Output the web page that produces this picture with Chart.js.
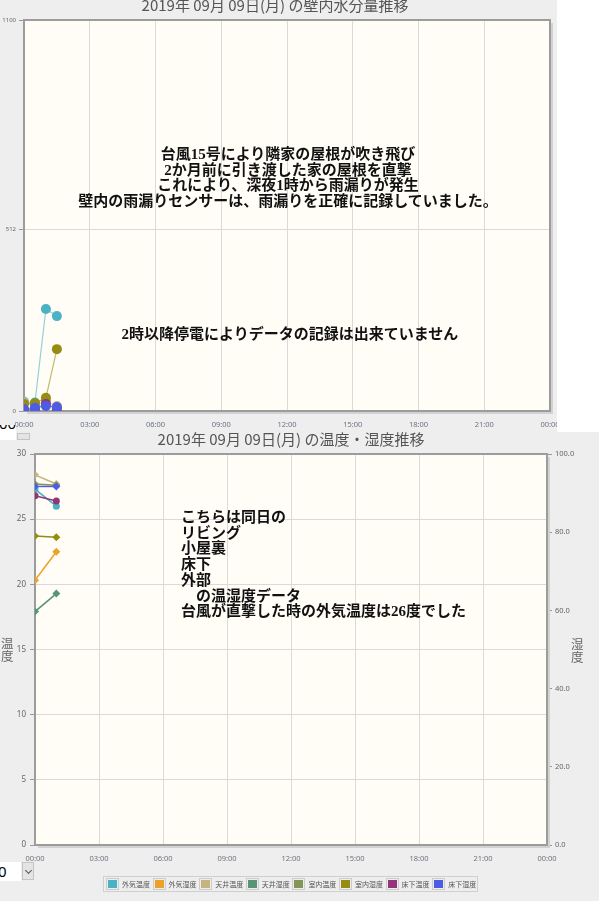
<!DOCTYPE html>
<html lang="ja">
<head>
<meta charset="utf-8">
<title>壁内水分量・温湿度推移</title>
<script src="https://cdn.jsdelivr.net/npm/chart.js@4.4.1/dist/chart.umd.min.js"></script>
<style>
  body { margin: 0; width: 604px; height: 901px; position: relative; overflow: hidden; background: #fff; font-family: "Noto Sans CJK JP", sans-serif; }
  .panel { position: absolute; left: 0; background: #eeeeee; overflow: hidden; }
  #panel-wall { top: 0; width: 557px; height: 433px; }
  #panel-temp { top: 432px; width: 599px; height: 469px; }
  #wallChart { position: absolute; left: 0; top: -14px; }
  #tempChart { position: absolute; left: 0; top: 0; }
  .note { position: absolute; font: bold 15px/15.7px "Liberation Serif", "Noto Sans CJK JP", serif; color: #111; white-space: pre; }
  .axis-title { position: absolute; font: 12.5px/13px "Noto Sans CJK JP", sans-serif; color: #666; }
  .sel { position: absolute; background: #fff; overflow: hidden; color: #000; font: 15px "Noto Sans", sans-serif; }
  .sel-btn { position: absolute; background: #e4e4e4; border: 1px solid #c4c4c4; box-sizing: border-box; }
  .chev { position: absolute; left: 3px; top: 5px; width: 4px; height: 4px; border-right: 1px solid #555; border-bottom: 1px solid #555; transform: rotate(45deg); }
  #legend { position: absolute; left: 103px; top: 876px; width: 375px; height: 16px; box-sizing: border-box; border: 1px solid #cfcfcf; padding-left: 2px; display: flex; align-items: center; }
  .item { width: 46.6px; display: flex; align-items: center; flex: none; }
  .sw { border: 1px solid #cccccc; padding: 1px; margin-right: 3px; }
  .sw div { width: 9px; height: 8px; }
  .item span { font-size: 7px; color: #555; white-space: nowrap; }
</style>
</head>
<body>
<div class="panel" id="panel-wall"><canvas id="wallChart" width="557" height="447"></canvas></div>
<div class="panel" id="panel-temp"><canvas id="tempChart" width="599" height="469"></canvas></div>

<div class="sel" style="left:0;top:425px;width:16px;height:15px;"><div style="position:absolute;left:-1px;top:-12px;">00</div></div>
<div class="sel-btn" style="left:17px;top:433px;width:13px;height:7px;"></div>
<div class="sel" style="left:0;top:862px;width:21px;height:19px;"><div style="position:absolute;left:-2px;top:-1px;">0</div></div>
<div class="sel-btn" style="left:22px;top:862px;width:12px;height:18px;"><div class="chev"></div></div>

<div class="note" style="left:0;top:147px;width:576px;text-align:center;">台風15号により隣家の屋根が吹き飛び
2か月前に引き渡した家の屋根を直撃
これにより、深夜1時から雨漏りが発生
壁内の雨漏りセンサーは、雨漏りを正確に記録していました。</div>
<div class="note" style="left:0;top:327px;width:580px;text-align:center;">2時以降停電によりデータの記録は出来ていません</div>
<div class="note" style="left:181px;top:510px;">こちらは同日の
リビング
小屋裏
床下
外部
　の温湿度データ
台風が直撃した時の外気温度は26度でした</div>

<div class="axis-title" style="left:1px;top:636px;">温<br>度</div>
<div class="axis-title" style="left:571px;top:637px;">湿<br>度</div>
<div id="legend"></div>

<script>
// 壁内水分量 (30分ごと、2時以降は停電で欠測)
const wallTimes = [0, 0.5, 1, 1.5];
const wallCyan = [26, 24, 287, 267];
const wallTan = [24, 16, 28, 14];
const wallOlive = [20, 22, 37, 174];
const wallPurple = [4, 6, 20, 6];
const wallBlue = [5, 9, 14, 11];
const wallTicks = [0, 512, 1100];

// 温度・湿度 (1時間ごと)
const times = [0, 1];
const names = ["外気温度", "外気湿度", "天井温度", "天井湿度", "室内温度", "室内湿度", "床下温度", "床下湿度"];
const outTemp = [27.3, 26.0];
const outHum = [67.7, 75.0];
const atticTemp = [28.4, 27.7];
const atticHum = [59.7, 64.3];
const roomTemp = [27.7, 27.6];
const roomHum = [79.0, 78.7];
const floorTemp = [26.8, 26.4];
const floorHum = [91.7, 91.7];

const colors = ["#4bb2c5", "#EAA228", "#c5b47f", "#579575", "#839557", "#958c12", "#953579", "#4b5de4"];

const fmtHour = (v) => String(v % 24).padStart(2, "0") + ":00";

// プロット領域の背景と枠
const plotFrame = {
  id: "plotFrame",
  beforeDraw(chart) {
    const { ctx, chartArea: a } = chart;
    ctx.save();
    ctx.fillStyle = "#fffdf6";
    ctx.fillRect(a.left, a.top, a.right - a.left, a.bottom - a.top);
    ctx.restore();
  },
  beforeDatasetsDraw(chart) {
    const { ctx, chartArea: a } = chart;
    ctx.save();
    ctx.strokeStyle = "#d2d2d2";
    ctx.lineWidth = 2;
    ctx.beginPath();
    ctx.moveTo(a.right + 2, a.top + 3);
    ctx.lineTo(a.right + 2, a.bottom + 2);
    ctx.lineTo(a.left + 3, a.bottom + 2);
    ctx.stroke();
    ctx.strokeStyle = "#9c9c9c";
    ctx.strokeRect(a.left, a.top, a.right - a.left, a.bottom - a.top);
    ctx.restore();
  },
};

const xAxis = (height) => ({
  type: "linear",
  min: 0,
  max: 24,
  border: { display: false },
  grid: { color: "#dadada", lineWidth: 1, drawTicks: false },
  ticks: {
    stepSize: 3,
    autoSkip: false,
    maxRotation: 0,
    padding: 9,
    color: "#6b7282",
    font: { family: "Noto Sans", size: 7.5 },
    callback: fmtHour,
  },
  afterFit(s) {
    s.height = height;
    s.paddingLeft = 0;
    s.paddingRight = 0;
  },
});

// 壁内水分量グラフ
const wallSeries = [
  { values: wallCyan, color: colors[0] },
  { values: wallTan, color: colors[2] },
  { values: wallOlive, color: colors[5] },
  { values: wallPurple, color: colors[6] },
  { values: wallBlue, color: colors[7] },
];

new Chart(document.getElementById("wallChart"), {
  type: "line",
  data: {
    datasets: wallSeries.map((s, i) => ({
      data: wallTimes.map((t, j) => ({ x: t, y: s.values[j] })),
      borderColor: s.color + "99",
      backgroundColor: s.color,
      borderWidth: 1.2,
      pointRadius: 5,
      pointBorderWidth: 0,
      tension: 0,
      order: wallSeries.length - i,
    })),
  },
  options: {
    responsive: false,
    animation: false,
    layout: { padding: { left: 0, right: 7, top: 0, bottom: 0 } },
    plugins: {
      legend: { display: false },
      tooltip: { enabled: false },
      title: {
        display: true,
        text: "2019年 09月 09日(月) の壁内水分量推移",
        color: "#555",
        font: { family: "Noto Sans CJK JP", size: 15, weight: "normal", lineHeight: 1.2 },
        padding: { top: 10, bottom: 6 },
      },
    },
    scales: {
      x: xAxis(22),
      y: {
        min: 0,
        max: 1100,
        border: { display: false },
        afterBuildTicks(s) {
          s.ticks = wallTicks.map((v) => ({ value: v }));
        },
        grid: { color: "#dadada", tickColor: "#999", tickLength: 5 },
        ticks: {
          padding: 3,
          color: "#666",
          font: { family: "Noto Sans", size: 6 },
          callback: (v) => String(v),
        },
        afterFit(s) {
          s.width = 24;
        },
      },
    },
  },
  plugins: [plotFrame],
});

// 温度・湿度グラフ
const tempSeries = [outTemp, outHum, atticTemp, atticHum, roomTemp, roomHum, floorTemp, floorHum];
const onHumAxis = [false, true, false, true, false, true, false, true];
const markers = ["circle", "rectRot", "rectRot", "rectRot", "rectRot", "rectRot", "circle", "rectRot"];

new Chart(document.getElementById("tempChart"), {
  type: "line",
  data: {
    datasets: tempSeries.map((vals, i) => ({
      label: names[i],
      data: times.map((t, j) => ({ x: t, y: vals[j] })),
      yAxisID: onHumAxis[i] ? "y1" : "y",
      borderColor: colors[i],
      backgroundColor: colors[i],
      borderWidth: 1.5,
      pointStyle: markers[i],
      pointRadius: markers[i] === "circle" ? 3.5 : 4,
      pointBorderWidth: 0,
      tension: 0,
      order: tempSeries.length - i,
    })),
  },
  options: {
    responsive: false,
    animation: false,
    layout: { padding: 0 },
    plugins: {
      legend: { display: false },
      tooltip: { enabled: false },
      title: {
        display: true,
        fullSize: false,
        text: "2019年 09月 09日(月) の温度・湿度推移",
        color: "#555",
        font: { family: "Noto Sans CJK JP", size: 15, weight: "normal", lineHeight: 1 },
        padding: { top: 0, bottom: 7 },
      },
    },
    scales: {
      x: xAxis(56),
      y: {
        position: "left",
        min: 0,
        max: 30,
        border: { display: false },
        grid: { color: "#dadada", tickColor: "#999", tickLength: 5 },
        ticks: { stepSize: 5, padding: 4, color: "#666", font: { family: "Noto Sans", size: 8 } },
        afterFit(s) {
          s.width = 35;
        },
      },
      y1: {
        position: "right",
        min: 0,
        max: 100,
        border: { display: false },
        grid: { drawOnChartArea: false, tickColor: "#999", tickLength: 5 },
        ticks: {
          stepSize: 20,
          padding: 3,
          color: "#666",
          font: { family: "Noto Sans", size: 7.5 },
          callback: (v) => v.toFixed(1),
        },
        afterFit(s) {
          s.width = 52;
        },
      },
    },
  },
  plugins: [plotFrame],
});

// 凡例
const legend = document.getElementById("legend");
names.forEach((name, i) => {
  const item = document.createElement("div");
  item.className = "item";
  item.innerHTML = `<div class="sw"><div style="background:${colors[i]}"></div></div><span>${name}</span>`;
  legend.appendChild(item);
});
</script>
</body>
</html>
